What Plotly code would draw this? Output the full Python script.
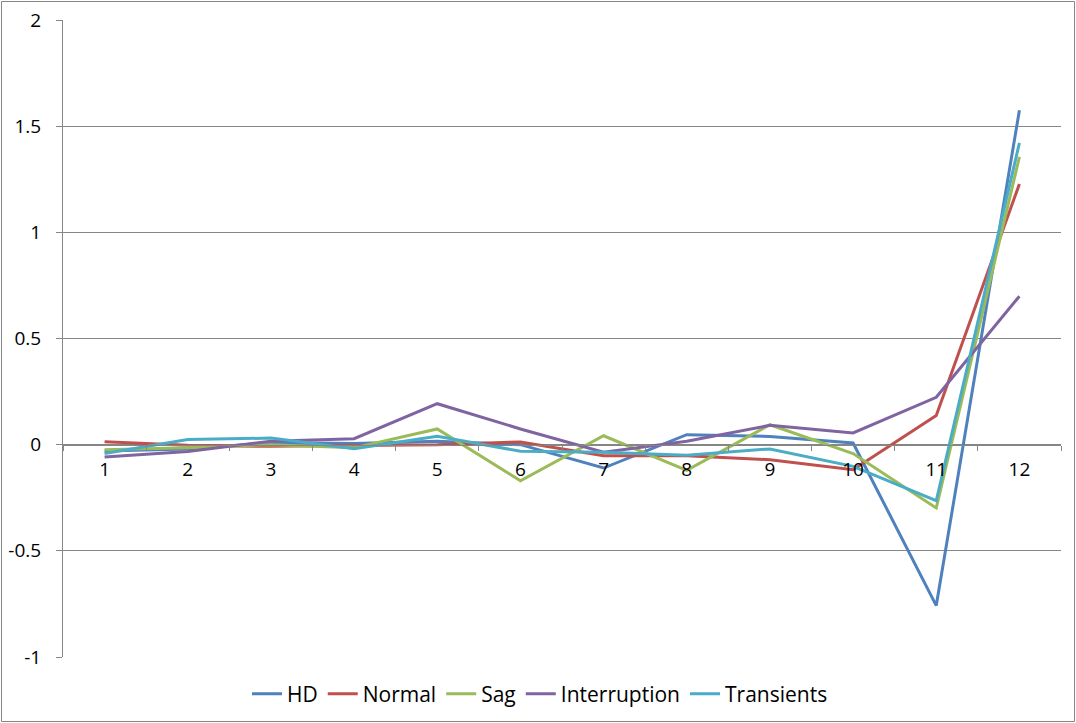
import plotly.graph_objects as go

categories = ["1", "2", "3", "4", "5", "6", "7", "8", "9", "10", "11", "12"]
hd = [-0.03, -0.02, 0.01, 0.005, 0.016, 0.0, -0.11, 0.047, 0.039, 0.008, -0.758, 1.575]
normal = [0.014, -0.003, -0.008, -0.003, 0.0, 0.013, -0.052, -0.052, -0.071, -0.118, 0.137, 1.228]
sag = [-0.024, -0.015, 0.0, -0.015, 0.074, -0.17, 0.042, -0.121, 0.094, -0.042, -0.298, 1.355]
interruption = [-0.058, -0.032, 0.016, 0.028, 0.193, 0.074, -0.036, 0.016, 0.091, 0.055, 0.223, 0.699]
transients = [-0.042, 0.024, 0.031, -0.019, 0.039, -0.031, -0.036, -0.05, -0.02, -0.102, -0.264, 1.421]

series_names = ["HD", "Normal", "Sag", "Interruption", "Transients"]
series_values = [hd, normal, sag, interruption, transients]
colors = ["#4F81BD", "#C0504D", "#9BBB59", "#8064A2", "#4BACC6"]

y_tickvals = [-1, -0.5, 0, 0.5, 1, 1.5, 2]
y_ticktext = ["-1", "-0.5", "0", "0.5", "1", "1.5", "2"]

fig = go.Figure()
for name, vals, col in zip(series_names, series_values, colors):
    fig.add_trace(go.Scatter(x=categories, y=vals, mode="lines", name=name,
                             line=dict(color=col, width=3)))

L, R, T, B = 63, 15, 20, 66
W, H = 1076, 723
pw, ph = W - L - R, H - T - B

fig.update_layout(
    width=W, height=H,
    margin=dict(l=L, r=R, t=T, b=B, autoexpand=False),
    paper_bgcolor="white", plot_bgcolor="white",
    font=dict(family="Open Sans, sans-serif", size=18, color="black"),
    showlegend=True,
    legend=dict(orientation="h", xref="paper", x=(540 - L) / pw, xanchor="center",
                yref="paper", y=-37 / ph, yanchor="middle",
                itemwidth=30, font=dict(size=21), bgcolor="rgba(0,0,0,0)"),
    xaxis=dict(type="category", anchor="free", position=1 / 3,
               showline=True, linecolor="#868686", linewidth=1,
               ticks="outside", tickson="boundaries", ticklen=5, tickcolor="#868686",
               ticklabelstandoff=8, tickfont=dict(size=19),
               tickangle=0, showgrid=False, zeroline=False, range=[-0.5, 11.5],
               automargin=False),
    yaxis=dict(range=[-1, 2], tickvals=y_tickvals, ticktext=y_ticktext,
               showgrid=True, gridcolor="#868686", gridwidth=1,
               showline=True, linecolor="#868686", linewidth=1,
               ticks="outside", ticklen=6, tickcolor="#868686",
               ticklabelstandoff=11, tickfont=dict(size=19),
               zeroline=False, automargin=False),
    shapes=[dict(type="rect", xref="paper", yref="paper",
                 x0=(1.5 - L) / pw, x1=(W - 1.5 - L) / pw,
                 y0=(H - T - B - (H - 1.5 - T)) / ph, y1=(H - T - B - (1.5 - T)) / ph,
                 line=dict(color="#868686", width=1), layer="below")],
)

fig.write_html("out.html")
